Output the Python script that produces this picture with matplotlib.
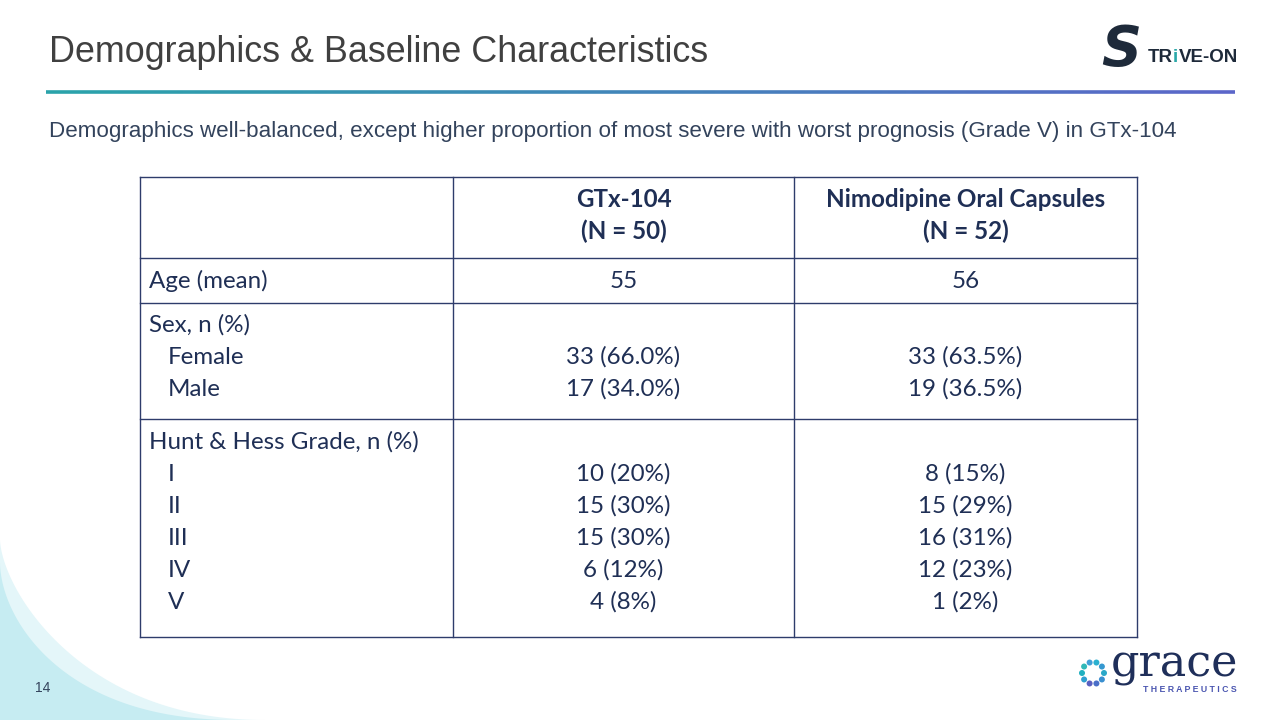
import numpy as np
import matplotlib.pyplot as plt
from matplotlib.patches import Polygon, Circle
from matplotlib.collections import LineCollection

# ---- table content ----
col_headers = ['GTx-104\n(N = 50)', 'Nimodipine Oral Capsules\n(N = 52)']
age_label = 'Age (mean)'
age_values = ['55', '56']
sex_label = 'Sex, n (%)'
sex_cats = ['Female', 'Male']
sex_gtx = ['33 (66.0%)', '17 (34.0%)']
sex_nimo = ['33 (63.5%)', '19 (36.5%)']
hh_label = 'Hunt & Hess Grade, n (%)'
hh_cats = ['I', 'II', 'III', 'IV', 'V']
hh_gtx = ['10 (20%)', '15 (30%)', '15 (30%)', '6 (12%)', '4 (8%)']
hh_nimo = ['8 (15%)', '15 (29%)', '16 (31%)', '12 (23%)', '1 (2%)']

title = 'Demographics & Baseline Characteristics'
subtitle = ('Demographics well-balanced, except higher proportion of most severe '
            'with worst prognosis (Grade V) in GTx-104')

navy = '#1f2f55'
grid_c = '#2e3c6b'
tfont = 'Lato'
tsize = 17.4
bl = 8  # baseline offset from row centre, px

fig = plt.figure(figsize=(12.8, 7.2), dpi=100)
ax = fig.add_axes([0, 0, 1, 1])
ax.set_xlim(0, 1280)
ax.set_ylim(720, 0)
ax.axis('off')

# bottom-left decoration
t = np.linspace(0, 1, 100)
outer = np.column_stack([265 * t ** 1.6, 540 + 180 * np.sin(t * np.pi / 2)])
ax.add_patch(Polygon(np.vstack([outer, [[0, 720]]]), closed=True, color='#e4f6f9', lw=0))
inner = np.column_stack([235 * t ** 1.8, 563 + 157 * np.sin(t * np.pi / 2)])
ax.add_patch(Polygon(np.vstack([inner, [[0, 720]]]), closed=True, color='#c6ecf2', lw=0))

# title + gradient rule
ax.text(49, 52, title, fontsize=25.8, color='#404040', family='Liberation Sans',
        va='center', ha='left')
xs = np.linspace(46, 1235, 200)
segs = [[(xs[i], 92), (xs[i + 1], 92)] for i in range(len(xs) - 1)]
cmap = plt.matplotlib.colors.LinearSegmentedColormap.from_list('rule', ['#2aa3aa', '#5b66c9'])
lc = LineCollection(segs, colors=cmap(np.linspace(0, 1, len(segs))), linewidths=2.6)
ax.add_collection(lc)
ax.text(49, 131, subtitle, fontsize=16.1, color='#33435c', family='Liberation Sans',
        va='center', ha='left')

# table grid
xl = [140, 453, 794, 1137]
yl = [177, 258, 303, 419, 637]
for x in xl:
    ax.plot([x, x], [yl[0], yl[-1]], color=grid_c, lw=1)
for y in yl:
    ax.plot([xl[0], xl[-1]], [y, y], color=grid_c, lw=1)

cx = [(xl[1] + xl[2]) / 2, (xl[2] + xl[3]) / 2]
kw = dict(fontsize=tsize, color=navy, family=tfont, va='baseline')

for c, h in zip(cx, col_headers):
    top, bot = h.split('\n')
    ax.text(c, 199 + bl, top, ha='center', fontweight='bold', **kw)
    ax.text(c, 231 + bl, bot, ha='center', fontweight='bold', **kw)

ax.text(149, 280 + bl, age_label, ha='left', **kw)
for c, v in zip(cx, age_values):
    ax.text(c, 280 + bl, v, ha='center', **kw)

ax.text(149, 324 + bl, sex_label, ha='left', **kw)
for i, cat in enumerate(sex_cats):
    y = 356 + 32 * i + bl
    ax.text(168, y, cat, ha='left', **kw)
    ax.text(cx[0], y, sex_gtx[i], ha='center', **kw)
    ax.text(cx[1], y, sex_nimo[i], ha='center', **kw)

ax.text(149, 441 + bl, hh_label, ha='left', **kw)
for i, cat in enumerate(hh_cats):
    y = 473 + 32 * i + bl
    ax.text(168, y, cat, ha='left', **kw)
    ax.text(cx[0], y, hh_gtx[i], ha='center', **kw)
    ax.text(cx[1], y, hh_nimo[i], ha='center', **kw)

# page number
ax.text(35, 688, '14', fontsize=10, color='#33435c', family='Liberation Sans',
        va='center', ha='left')

# STRIVE-ON logo (approximation)
ax.text(1101, 50, 'S', fontsize=40, fontweight='bold', color='#1e2a3a',
        family='DejaVu Sans', va='center', ha='left', style='italic')
ax.text(1148, 58, 'TR', fontsize=13.5, fontweight='bold', color='#1e2a3a',
        family='Liberation Sans', va='center', ha='left')
ax.text(1173, 58, 'i', fontsize=13.5, fontweight='bold', color='#2aa8a8',
        family='Liberation Sans', va='center', ha='left')
ax.text(1179, 58, 'VE-ON', fontsize=13.5, fontweight='bold', color='#1e2a3a',
        family='Liberation Sans', va='center', ha='left')

# grace logo (approximation)
ang = np.linspace(0, 2 * np.pi, 10, endpoint=False)
dot_cols = ['#2aa8c8', '#3a8fd0', '#4a6fc8', '#5a5fc0', '#2f9fd0',
            '#20b0c0', '#30b8b8', '#40a0d8', '#2ab0d0', '#3598d0']
for a, col in zip(ang, dot_cols):
    ax.add_patch(Circle((1093 + 11 * np.cos(a), 673 + 11 * np.sin(a)), 3.0, color=col, lw=0))
ax.text(1111, 664, 'grace', fontsize=32, color='#1f2f5a', family='DejaVu Serif',
        va='center', ha='left')
ax.text(1143, 690, 'T H E R A P E U T I C S', fontsize=6.3, color='#4a55b0',
        family='Liberation Sans', va='center', ha='left', fontweight='bold')

fig.savefig('out.png', dpi=100)
